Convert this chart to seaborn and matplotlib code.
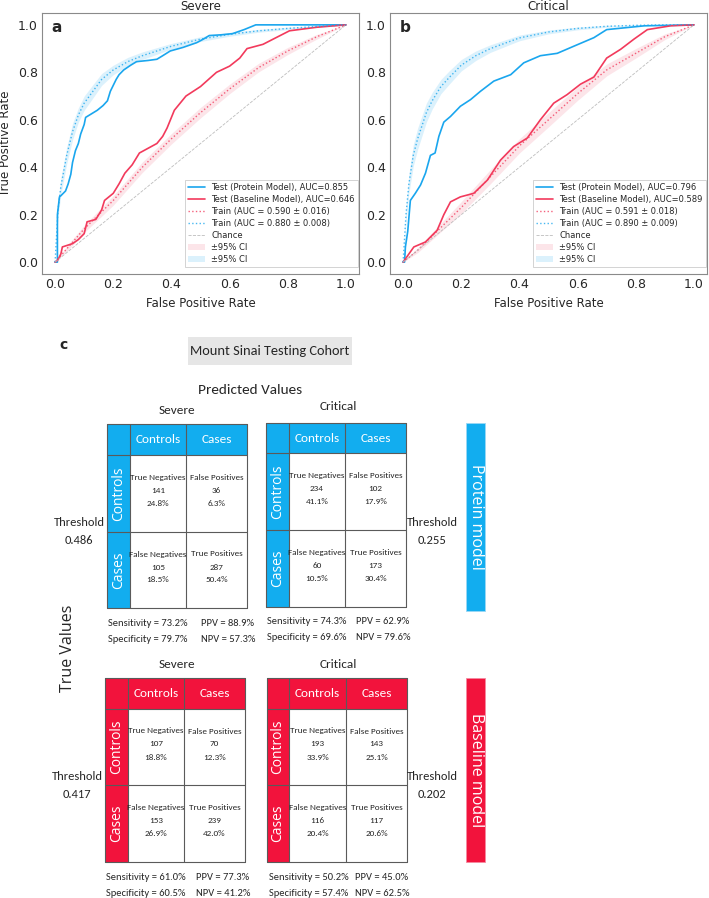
import matplotlib
matplotlib.use("Agg")
import matplotlib.pyplot as plt
import pandas as pd
import seaborn as sns
from matplotlib.patches import Rectangle

# ---- ROC curves (fpr, tpr) ----
sev_test_protein = [(0, 0), (0.008, 0), (0.008, 0.2), (0.015, 0.275), (0.02, 0.28), (0.036, 0.30),
                    (0.045, 0.33), (0.054, 0.37), (0.06, 0.42), (0.07, 0.47), (0.08, 0.50), (0.088, 0.54),
                    (0.1, 0.58), (0.105, 0.61), (0.125, 0.625), (0.145, 0.64), (0.165, 0.66), (0.18, 0.68),
                    (0.19, 0.72), (0.21, 0.77), (0.22, 0.79), (0.236, 0.81), (0.26, 0.83), (0.28, 0.845),
                    (0.32, 0.85), (0.35, 0.855), (0.37, 0.87), (0.396, 0.89), (0.44, 0.905), (0.487, 0.925),
                    (0.51, 0.94), (0.53, 0.955), (0.57, 0.958), (0.61, 0.963), (0.65, 0.98), (0.69, 1.0),
                    (1.0, 1.0)]
sev_test_baseline = [(0, 0), (0.01, 0.01), (0.02, 0.035), (0.025, 0.064), (0.06, 0.078), (0.08, 0.095),
                     (0.1, 0.12), (0.11, 0.17), (0.14, 0.18), (0.16, 0.22), (0.17, 0.26), (0.2, 0.29),
                     (0.22, 0.33), (0.24, 0.375), (0.265, 0.41), (0.29, 0.46), (0.35, 0.50), (0.37, 0.53),
                     (0.385, 0.565), (0.41, 0.64), (0.45, 0.70), (0.5, 0.74), (0.555, 0.80), (0.6, 0.826),
                     (0.635, 0.86), (0.66, 0.90), (0.715, 0.918), (0.75, 0.94), (0.806, 0.975), (0.9, 0.99),
                     (1, 1)]
crit_test_protein = [(0, 0), (0.005, 0), (0.008, 0.064), (0.016, 0.13), (0.025, 0.26), (0.042, 0.29),
                     (0.06, 0.325), (0.077, 0.375), (0.094, 0.45), (0.11, 0.46), (0.123, 0.53), (0.14, 0.59),
                     (0.163, 0.614), (0.197, 0.657), (0.232, 0.685), (0.266, 0.72), (0.312, 0.763),
                     (0.37, 0.79), (0.415, 0.84), (0.472, 0.87), (0.53, 0.88), (0.587, 0.91), (0.656, 0.946),
                     (0.70, 0.98), (0.83, 0.996), (1, 1)]
crit_test_baseline = [(0, 0), (0.037, 0.064), (0.077, 0.085), (0.117, 0.134), (0.14, 0.20), (0.163, 0.254),
                      (0.197, 0.275), (0.243, 0.29), (0.29, 0.346), (0.335, 0.43), (0.38, 0.487),
                      (0.427, 0.523), (0.472, 0.60), (0.518, 0.67), (0.564, 0.706), (0.61, 0.75),
                      (0.656, 0.78), (0.70, 0.86), (0.748, 0.897), (0.794, 0.94), (0.84, 0.98),
                      (0.92, 0.996), (1, 1)]

# mean train curves (fpr, tpr, 95% CI half width)
sev_train_protein = [(0, 0, 0), (0.01, 0.22, 0.03), (0.02, 0.32, 0.035), (0.04, 0.45, 0.035),
                     (0.06, 0.55, 0.035), (0.08, 0.62, 0.03), (0.10, 0.67, 0.03), (0.13, 0.72, 0.028),
                     (0.16, 0.77, 0.025), (0.20, 0.81, 0.02), (0.25, 0.845, 0.018), (0.30, 0.87, 0.016),
                     (0.40, 0.91, 0.012), (0.50, 0.94, 0.01), (0.60, 0.96, 0.008), (0.70, 0.975, 0.006),
                     (0.80, 0.985, 0.005), (0.90, 0.993, 0.003), (1.0, 1.0, 0)]
sev_train_baseline = [(0, 0, 0), (0.05, 0.07, 0.012), (0.1, 0.14, 0.015), (0.15, 0.20, 0.018),
                      (0.2, 0.26, 0.02), (0.3, 0.40, 0.022), (0.4, 0.52, 0.022), (0.5, 0.63, 0.022),
                      (0.6, 0.73, 0.02), (0.7, 0.82, 0.018), (0.8, 0.89, 0.015), (0.9, 0.95, 0.01),
                      (1.0, 1.0, 0)]
crit_train_protein = [(0, 0, 0), (0.01, 0.2, 0.03), (0.02, 0.33, 0.04), (0.035, 0.45, 0.045),
                      (0.05, 0.52, 0.045), (0.08, 0.63, 0.04), (0.10, 0.68, 0.035), (0.13, 0.74, 0.03),
                      (0.16, 0.78, 0.028), (0.20, 0.83, 0.024), (0.25, 0.87, 0.02), (0.30, 0.90, 0.016),
                      (0.40, 0.945, 0.012), (0.50, 0.97, 0.008), (0.60, 0.985, 0.006), (0.70, 0.994, 0.004),
                      (0.80, 0.998, 0.002), (0.90, 1.0, 0.001), (1.0, 1.0, 0)]
crit_train_baseline = [(0, 0, 0), (0.05, 0.05, 0.01), (0.1, 0.11, 0.015), (0.15, 0.17, 0.02),
                       (0.2, 0.23, 0.025), (0.3, 0.36, 0.03), (0.4, 0.49, 0.03), (0.5, 0.60, 0.03),
                       (0.6, 0.71, 0.028), (0.7, 0.81, 0.025), (0.8, 0.88, 0.02), (0.9, 0.95, 0.012),
                       (1.0, 1.0, 0)]

sev_aucs = {"test_protein": "0.855", "test_baseline": "0.646",
            "train_baseline": "0.590 ± 0.016", "train_protein": "0.880 ± 0.008"}
crit_aucs = {"test_protein": "0.796", "test_baseline": "0.589",
             "train_baseline": "0.591 ± 0.018", "train_protein": "0.890 ± 0.009"}

# ---- confusion tables ----
cell_names = ["True Negatives", "False Positives", "False Negatives", "True Positives"]
prot_sev_counts = [141, 36, 105, 287]
prot_sev_pcts = [24.8, 6.3, 18.5, 50.4]
prot_crit_counts = [234, 102, 60, 173]
prot_crit_pcts = [41.1, 17.9, 10.5, 30.4]
base_sev_counts = [107, 70, 153, 239]
base_sev_pcts = [18.8, 12.3, 26.9, 42.0]
base_crit_counts = [193, 143, 116, 117]
base_crit_pcts = [33.9, 25.1, 20.4, 20.6]
prot_thresholds = [0.486, 0.255]
base_thresholds = [0.417, 0.202]
# sensitivity, specificity, ppv, npv
prot_sev_metrics = [73.2, 79.7, 88.9, 57.3]
prot_crit_metrics = [74.3, 69.6, 62.9, 79.6]
base_sev_metrics = [61.0, 60.5, 77.3, 41.2]
base_crit_metrics = [50.2, 57.4, 45.0, 62.5]

LINE_BLUE = "#1aa6ee"
LINE_RED = "#f23a5c"
TAB_BLUE = "#12adef"
TAB_RED = "#f2133c"
EDGE = "#5a5a5a"

sns.set_style("white")
plt.rcParams["font.family"] = ["DejaVu Sans"]
CAL = ["Carlito", "DejaVu Sans"]
ROUND = ["Open Sans", "DejaVu Sans"]

W, H = 709, 898
fig = plt.figure(figsize=(W / 100, H / 100), dpi=100)


def px_axes(left, top, right, bottom):
    return fig.add_axes([left / W, 1 - bottom / H, (right - left) / W, (bottom - top) / H])


# lower part: one axes in pixel units for the tables
tab = px_axes(0, 0, W, H)
tab.set_xlim(0, W)
tab.set_ylim(H, 0)
tab.axis("off")


def roc_panel(ax, title, letter, test_prot, test_base, train_prot, train_base, aucs):
    tp = pd.DataFrame(test_prot, columns=["fpr", "tpr"])
    tb = pd.DataFrame(test_base, columns=["fpr", "tpr"])
    rp = pd.DataFrame(train_prot, columns=["fpr", "tpr", "ci"])
    rb = pd.DataFrame(train_base, columns=["fpr", "tpr", "ci"])
    sns.lineplot(data=tp, x="fpr", y="tpr", ax=ax, color=LINE_BLUE, lw=1.2, sort=False,
                 estimator=None, label=f"Test (Protein Model), AUC={aucs['test_protein']}")
    sns.lineplot(data=tb, x="fpr", y="tpr", ax=ax, color=LINE_RED, lw=1.2, sort=False,
                 estimator=None, label=f"Test (Baseline Model), AUC={aucs['test_baseline']}")
    sns.lineplot(data=rb, x="fpr", y="tpr", ax=ax, color=LINE_RED, lw=1.0, ls=":", sort=False,
                 estimator=None, alpha=0.8, label=f"Train (AUC = {aucs['train_baseline']})")
    sns.lineplot(data=rp, x="fpr", y="tpr", ax=ax, color=LINE_BLUE, lw=1.0, ls=":", sort=False,
                 estimator=None, alpha=0.8, label=f"Train (AUC = {aucs['train_protein']})")
    ax.plot([0, 1], [0, 1], color="#bdbdbd", lw=0.6, ls="--", label="Chance")
    ax.fill_between(rb["fpr"], rb["tpr"] - rb["ci"], (rb["tpr"] + rb["ci"]).clip(upper=1),
                    color="#f9c6d0", alpha=0.45, lw=0, zorder=1, label="±95% CI")
    ax.fill_between(rp["fpr"], rp["tpr"] - rp["ci"], (rp["tpr"] + rp["ci"]).clip(upper=1),
                    color="#bfe6fa", alpha=0.55, lw=0, zorder=1, label="±95% CI")
    ax.set_xlim(-0.045, 1.045)
    ax.set_ylim(-0.05, 1.05)
    ax.set_xticks([0, 0.2, 0.4, 0.6, 0.8, 1.0])
    ax.set_yticks([0, 0.2, 0.4, 0.6, 0.8, 1.0])
    ax.tick_params(labelsize=9, length=0, pad=3)
    ax.set_xlabel("False Positive Rate", fontsize=8.5, labelpad=4)
    ax.set_ylabel("True Positive Rate", fontsize=8.5)
    ax.set_title(title, fontsize=8.5, pad=2)
    for sp in ax.spines.values():
        sp.set_color("#8a8a8a")
        sp.set_linewidth(0.8)
    ax.text(0.03, 0.943, letter, transform=ax.transAxes, fontsize=11, fontweight="bold",
            va="center", ha="left")
    handles, labels = ax.get_legend_handles_labels()
    leg = ax.legend(handles, labels, loc="lower right", bbox_to_anchor=(0.997, 0.025),
                    borderaxespad=0, fontsize=6, labelspacing=0.36, handlelength=2.0,
                    frameon=True, framealpha=1, edgecolor="#cccccc", fancybox=False)
    leg.get_frame().set_linewidth(0.6)


ax_a = px_axes(42, 13, 359, 274)
roc_panel(ax_a, "Severe", "a", sev_test_protein, sev_test_baseline,
          sev_train_protein, sev_train_baseline, sev_aucs)
ax_b = px_axes(390, 13, 707, 274)
roc_panel(ax_b, "Critical", "b", crit_test_protein, crit_test_baseline,
          crit_train_protein, crit_train_baseline, crit_aucs)
ax_b.set_ylabel("")


def conf_table(xs, ys, color, counts, pcts):
    x0, x1, x2, x3 = xs
    y0, y1, y2, y3 = ys
    tab.add_patch(Rectangle((x0, y0), x3 - x0, y1 - y0, fc=color, ec="none"))
    tab.add_patch(Rectangle((x0, y0), x1 - x0, y3 - y0, fc=color, ec="none"))
    for x in xs:
        tab.plot([x, x], [y0, y3], color=EDGE, lw=0.8)
    for y in ys:
        tab.plot([x0, x3], [y, y], color=EDGE, lw=0.8)
    tab.text((x1 + x2) / 2, (y0 + y1) / 2, "Controls", color="white", fontsize=9.5,
             family=CAL, ha="center", va="center")
    tab.text((x2 + x3) / 2, (y0 + y1) / 2, "Cases", color="white", fontsize=9.5,
             family=CAL, ha="center", va="center")
    tab.text((x0 + x1) / 2, (y1 + y2) / 2, "Controls", color="white", fontsize=10,
             family=ROUND, rotation=90, ha="center", va="center")
    tab.text((x0 + x1) / 2, (y2 + y3) / 2, "Cases", color="white", fontsize=10,
             family=ROUND, rotation=90, ha="center", va="center")
    centers = [((x1 + x2) / 2, (y1 + y2) / 2), ((x2 + x3) / 2, (y1 + y2) / 2),
               ((x1 + x2) / 2, (y2 + y3) / 2), ((x2 + x3) / 2, (y2 + y3) / 2)]
    for (cx, cy), name, n, p in zip(centers, cell_names, counts, pcts):
        cy -= 3
        tab.text(cx, cy - 13, name, fontsize=6.6, family=CAL, ha="center", va="center")
        tab.text(cx, cy, f"{n}", fontsize=6.6, family=CAL, ha="center", va="center")
        tab.text(cx, cy + 13, f"{p:.1f}%", fontsize=6.6, family=CAL, ha="center", va="center")


def metrics_text(x_left, x_right, y, metrics):
    sens, spec, ppv, npv = metrics
    kw = dict(fontsize=7.6, family=CAL, ha="left", va="center")
    tab.text(x_left, y, f"Sensitivity = {sens:.1f}%", **kw)
    tab.text(x_left, y + 16, f"Specificity = {spec:.1f}%", **kw)
    tab.text(x_right, y, f"PPV = {ppv:.1f}%", **kw)
    tab.text(x_right, y + 16, f"NPV = {npv:.1f}%", **kw)


def threshold_text(x, y, value):
    tab.text(x, y, "Threshold", fontsize=9, family=CAL, ha="center", va="center")
    tab.text(x, y + 18, f"{value:.3f}", fontsize=9, family=CAL, ha="center", va="center")


# panel c header
tab.text(63, 345, "c", fontsize=10, fontweight="bold", ha="center", va="center")
tab.add_patch(Rectangle((188, 337), 164, 28, fc="#e6e6e6", ec="none"))
tab.text(270, 351, "Mount Sinai Testing Cohort", fontsize=10.4, family=CAL,
         ha="center", va="center")
tab.text(250, 390, "Predicted Values", fontsize=11, family=CAL, ha="center", va="center")
tab.text(68, 648, "True Values", fontsize=11.5, family=ROUND, rotation=90, ha="center", va="center")

# protein model block
tab.text(177, 410, "Severe", fontsize=9.5, family=CAL, ha="center", va="center")
tab.text(338, 407, "Critical", fontsize=9.5, family=CAL, ha="center", va="center")
conf_table([107, 130, 186, 247], [424, 455, 532, 608], TAB_BLUE, prot_sev_counts, prot_sev_pcts)
conf_table([266, 289, 345, 406], [423, 453, 530, 607], TAB_BLUE, prot_crit_counts, prot_crit_pcts)
threshold_text(79, 522, prot_thresholds[0])
threshold_text(432, 522, prot_thresholds[1])
metrics_text(108, 201, 623, prot_sev_metrics)
metrics_text(267, 356, 622, prot_crit_metrics)
tab.add_patch(Rectangle((466, 423), 19, 188, fc=TAB_BLUE, ec="#9ad8f5", lw=0.6))
tab.text(475.5, 517, "Protein model", color="white", fontsize=11.5, family=ROUND,
         rotation=-90, ha="center", va="center")

# baseline model block
tab.text(177, 664, "Severe", fontsize=9.5, family=CAL, ha="center", va="center")
tab.text(338, 664, "Critical", fontsize=9.5, family=CAL, ha="center", va="center")
conf_table([105, 128, 184, 245], [678, 709, 785, 862], TAB_RED, base_sev_counts, base_sev_pcts)
conf_table([267, 289, 346, 407], [678, 709, 785, 862], TAB_RED, base_crit_counts, base_crit_pcts)
threshold_text(77, 776, base_thresholds[0])
threshold_text(432, 776, base_thresholds[1])
metrics_text(106, 196, 877, base_sev_metrics)
metrics_text(269, 355, 877, base_crit_metrics)
tab.add_patch(Rectangle((466, 678), 19, 184, fc=TAB_RED, ec="#f58aa0", lw=0.6))
tab.text(475.5, 770, "Baseline model", color="white", fontsize=11.5, family=ROUND,
         rotation=-90, ha="center", va="center")

fig.savefig("out.png", dpi=100)
